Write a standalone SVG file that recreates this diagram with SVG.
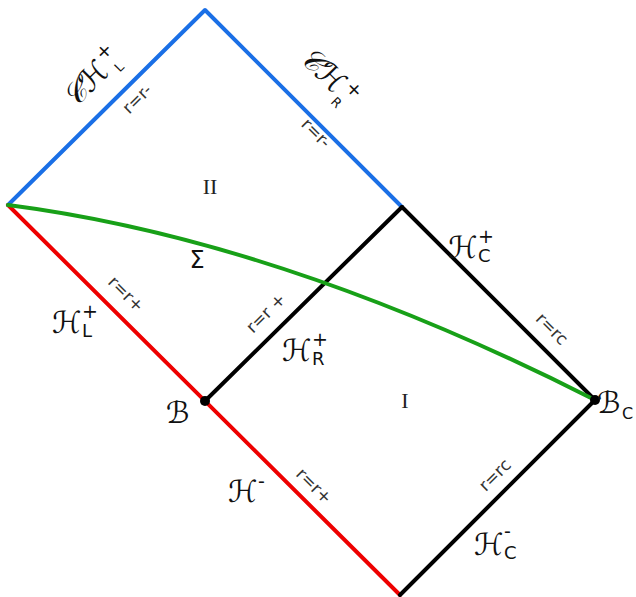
<svg xmlns="http://www.w3.org/2000/svg" width="636" height="597" viewBox="0 0 636 597">
<style>
.ln{fill:none;stroke-width:4;stroke-linecap:round;stroke-linejoin:round}
.sc{font-family:"DejaVu Serif","DejaVu Sans",serif;font-style:italic;font-size:30px;fill:#111}
.ss{font-family:"DejaVu Sans",sans-serif;font-size:19px;fill:#111}
.sb{font-family:"DejaVu Sans",sans-serif;font-size:18px;fill:#111}
.rl{font-family:"DejaVu Sans",sans-serif;font-size:17px;fill:#333}
.rm{font-family:"Liberation Serif",serif;font-size:22px;fill:#222}
</style>
<rect width="636" height="597" fill="#fff"/>
<g id="connectors">
<polyline class="ln" stroke="#1a6fe6" points="8,205 205,10 402,207"/>
<line class="ln" stroke="#ee0000" x1="8" y1="205" x2="400" y2="595"/>
<polyline class="ln" stroke="#000" points="402,207 595,400 400,595"/>
<line class="ln" stroke="#000" x1="205" y1="401" x2="402" y2="207"/>
<path class="ln" stroke="#18a018" d="M8,205 Q280,240 595,400"/>
</g>
<g id="B"><circle cx="205" cy="401" r="5" fill="#000"/><text class="sc" x="166" y="423">ℬ</text></g>
<g id="BC"><circle cx="595" cy="400" r="5" fill="#000"/><text class="sc" x="597" y="413">ℬ</text><text class="sb" x="622" y="419" style="font-size:16px">C</text></g>
<g id="CHL"><g transform="translate(100,84) rotate(-45)"><text class="sc" x="-36" y="0">𝒞ℋ</text><text class="ss" x="18" y="-14">+</text><text class="sb" x="22" y="6" style="font-size:13px">L</text></g>
<text class="rl" transform="translate(141,103) rotate(-45)" text-anchor="middle">r=r-</text></g>
<g id="CHR"><g transform="translate(323,84) rotate(45)"><text class="sc" x="-36" y="0">𝒞ℋ</text><text class="ss" x="18" y="-12">+</text><text class="sb" x="18" y="8" style="font-size:13px">R</text></g>
<text class="rl" transform="translate(312,137) rotate(45)" text-anchor="middle">r=r-</text></g>
<g id="II"><text class="rm" x="210" y="194" text-anchor="middle">II</text></g>
<g id="Sigma"><text class="ss" x="197" y="268" text-anchor="middle" style="font-size:24px">Σ</text></g>
<g id="HCp"><text class="sc" x="448" y="258">ℋ</text><text class="ss" x="478" y="243">+</text><text class="sb" x="478" y="262">C</text>
<text class="rl" transform="translate(548,333) rotate(45)" text-anchor="middle">r=rc</text></g>
<g id="HLp"><text class="sc" x="52" y="333">ℋ</text><text class="ss" x="82" y="318">+</text><text class="sb" x="82" y="337">L</text>
<text class="rl" transform="translate(122,298) rotate(45)" text-anchor="middle">r=r+</text></g>
<g id="HRp"><text class="sc" x="282" y="361">ℋ</text><text class="ss" x="312" y="346">+</text><text class="sb" x="312" y="365">R</text>
<text class="rl" transform="translate(270,317) rotate(-45)" text-anchor="middle">r=r +</text></g>
<g id="I"><text class="rm" x="405" y="408" text-anchor="middle">I</text></g>
<g id="Hm"><text class="sc" x="228" y="502">ℋ</text><text class="ss" x="258" y="488">-</text>
<text class="rl" transform="translate(310,490) rotate(45)" text-anchor="middle">r=r+</text></g>
<g id="HCm"><text class="sc" x="474" y="555">ℋ</text><text class="ss" x="504" y="538">-</text><text class="sb" x="504" y="559">C</text>
<text class="rl" transform="translate(499,479) rotate(-45)" text-anchor="middle">r=rc</text></g>
</svg>
